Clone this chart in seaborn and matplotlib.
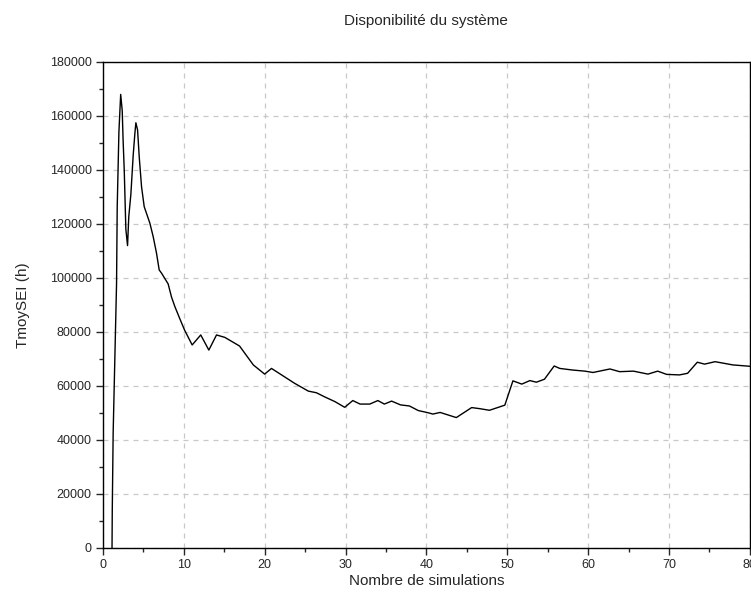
import numpy as np
import pandas as pd
import matplotlib
matplotlib.use("Agg")
import matplotlib.pyplot as plt
import seaborn as sns
from matplotlib.ticker import MultipleLocator

# simulation count vs mean time
nb_simulations = [1.13, 1.16, 1.27, 1.48, 1.69, 1.77, 1.98, 2.2, 2.39, 2.5,
                  2.64, 2.84, 3.05, 3.2, 3.46, 3.75, 3.96, 4.08, 4.29, 4.49,
                  4.78, 5.11, 5.81, 6.22, 6.63, 6.96, 7.25, 8.07, 8.48, 8.9,
                  9.5, 10.1, 11.04, 12.1, 13.1, 14.05, 15.08, 16.9, 18.6, 20.0,
                  20.85, 23.7, 25.4, 26.4, 27.4, 28.7, 29.9, 30.9, 31.8, 33.0,
                  34.0, 34.8, 35.7, 36.8, 37.9, 39.0, 40.2, 40.8, 41.7, 43.7,
                  45.6, 46.6, 47.8, 49.7, 50.7, 51.8, 52.8, 53.6, 54.6, 55.8,
                  56.5, 58.1, 59.6, 60.6, 62.7, 63.9, 65.6, 67.4, 68.6, 69.7,
                  71.3, 72.3, 73.5, 74.4, 75.7, 77.9, 80.0]
tmoy_sei = [0, 14000, 42600, 70400, 98000, 126000, 154000, 168000, 162000, 151000,
            140000, 118000, 112000, 122700, 131000, 145600, 153700, 157500, 154800, 145000,
            133800, 126400, 120300, 115300, 109200, 103000, 101800, 97800, 93000, 89400,
            85000, 80700, 75200, 78900, 73300, 78900, 78000, 74800, 67800, 64400,
            66500, 61000, 58100, 57500, 56000, 54200, 52100, 54600, 53300, 53300,
            54600, 53300, 54400, 53000, 52600, 50900, 50100, 49600, 50200, 48300,
            52000, 51600, 51000, 52900, 61900, 60700, 62000, 61400, 62500, 67400,
            66500, 65900, 65500, 65000, 66300, 65300, 65500, 64400, 65500, 64300,
            64100, 64700, 68800, 68100, 69000, 67800, 67300]

df = pd.DataFrame({"x": nb_simulations, "y": tmoy_sei})

sns.set_style("white")
plt.rcParams['font.family'] = ['Liberation Sans', 'DejaVu Sans']

fig = plt.figure(figsize=(7.51, 6.09), dpi=100)
ax = fig.add_axes([0.137, 0.1002, 0.8615, 0.798])

sns.lineplot(data=df, x="x", y="y", color="black", linewidth=1.0,
             estimator=None, sort=False, ax=ax)

ax.set_xlim(0, 80)
ax.set_ylim(0, 180000)
ax.xaxis.set_major_locator(MultipleLocator(10))
ax.xaxis.set_minor_locator(MultipleLocator(5))
ax.yaxis.set_major_locator(MultipleLocator(20000))
ax.yaxis.set_minor_locator(MultipleLocator(10000))
ax.tick_params(which="major", direction="out", length=5, width=1, labelsize=9,
               bottom=True, left=True, top=False, right=False, pad=3)
ax.tick_params(which="minor", direction="out", length=3, width=1,
               bottom=True, left=True, top=False, right=False)

ax.grid(True, which="major", linestyle=(0, (4, 4)), color="#c8c8c8", linewidth=0.9)
for s in ax.spines.values():
    s.set_color("black")
    s.set_linewidth(1.0)

ax.set_xlabel("Nombre de simulations", fontsize=11, labelpad=2)
ax.set_ylabel("TmoySEI (h)", fontsize=11, labelpad=14)
fig.text(0.567, 0.965, "Disponibilité du système", ha="center", va="center", fontsize=11)

fig.savefig("out.png", dpi=100)
